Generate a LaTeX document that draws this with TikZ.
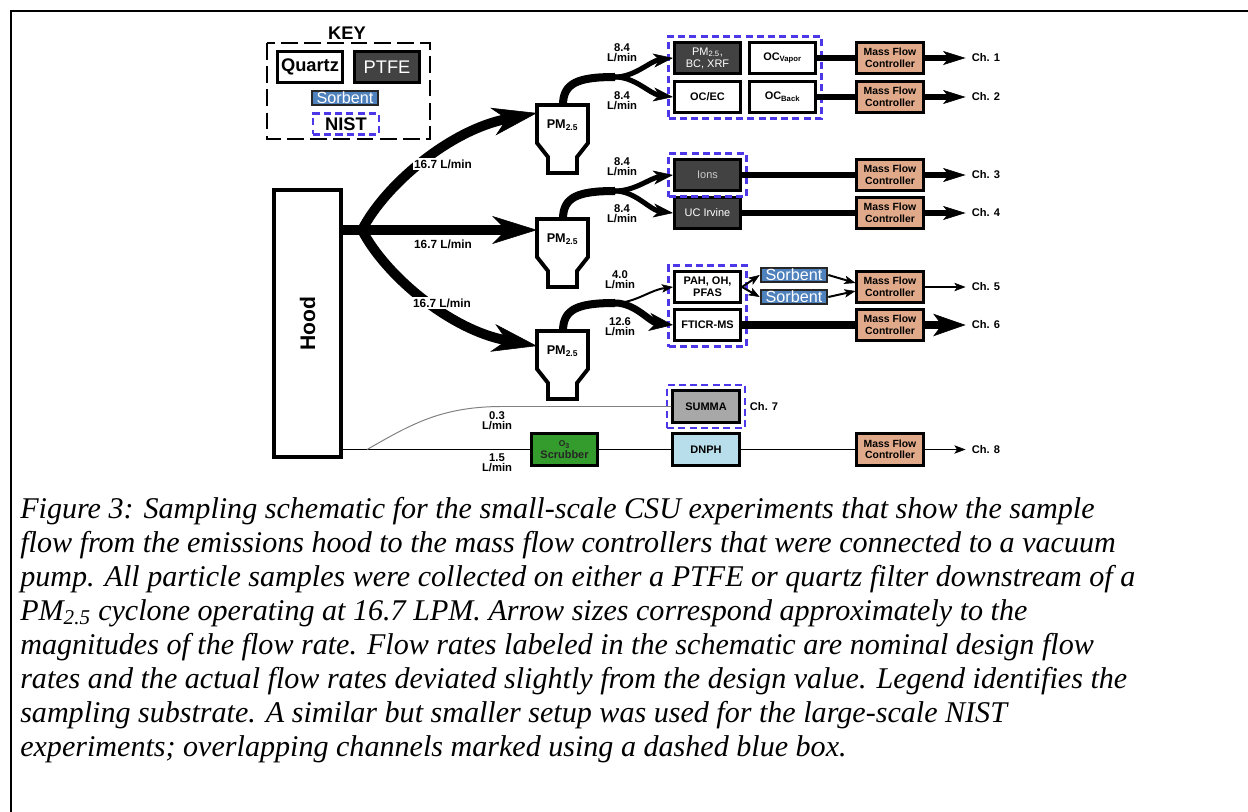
\documentclass[tikz,border=0pt]{standalone}
\usepackage{fontspec}
\setmainfont{Liberation Serif}
\setsansfont{Liberation Sans}
\usetikzlibrary{arrows.meta, positioning, fit}

\definecolor{filtergray}{RGB}{66,66,66}
\definecolor{mfctan}{RGB}{224,170,138}
\definecolor{sorbblue}{RGB}{79,129,189}
\definecolor{nistblue}{RGB}{76,56,232}
\definecolor{summagray}{RGB}{168,168,168}
\definecolor{dnphblue}{RGB}{183,222,234}
\definecolor{scrubgreen}{RGB}{52,156,44}

\tikzset{
  box/.style={draw, line width=1.9pt, fill=white, minimum width=16.6mm, minimum height=7.9mm, inner sep=0pt, align=center, font=\sffamily\bfseries\fontsize{7.8}{8.6}\selectfont},
  darkbox/.style={box, fill=filtergray, text=white, font=\sffamily\fontsize{7.8}{8.6}\selectfont},
  mfc/.style={box, fill=mfctan, font=\sffamily\bfseries\fontsize{7.4}{8.2}\selectfont},
  sorbent/.style={draw=black!85, line width=1.3pt, fill=sorbblue, text=white, minimum width=16.7mm, minimum height=3.7mm, inner sep=0pt, font=\sffamily\fontsize{11.5}{12}\selectfont},
  nist/.style={draw=nistblue, line width=1.6pt, dash pattern=on 5pt off 3pt, inner sep=1.1mm},
  rate/.style={align=center, inner sep=0pt, font=\sffamily\bfseries\fontsize{8}{7.2}\selectfont},
  bigrate/.style={fill=white, inner sep=1pt, font=\sffamily\bfseries\fontsize{8.4}{9}\selectfont},
  chan/.style={inner sep=1.5mm, font=\sffamily\bfseries\fontsize{7.9}{9}\selectfont},
  keytext/.style={font=\sffamily\bfseries\fontsize{13}{14}\selectfont},
  cyclone/.style={draw, line width=2.8pt, fill=white, line join=miter},
  hoodflow/.style={line width=7pt, -{Stealth[length=32pt, width=20pt, inset=10pt, line width=0.4pt]}},
  trunk/.style={line width=5.7pt},
  split/.style={line width=3.6pt, -{Stealth[length=14pt, width=10pt, inset=4pt, line width=0.4pt]}},
  bigsplit/.style={line width=5pt, -{Stealth[length=17pt, width=13pt, inset=5pt, line width=0.4pt]}},
  pipe/.style={line width=3.6pt},
  fatpipe/.style={line width=6pt},
  chout/.style={line width=3.6pt, -{Stealth[length=16pt, width=10pt, inset=4pt, line width=0.4pt]}},
  fatout/.style={line width=6pt, -{Stealth[length=23pt, width=16pt, inset=6pt, line width=0.4pt]}},
  hair/.style={line width=1.4pt},
  hairout/.style={hair, -{Stealth[length=8pt, width=6pt, inset=2pt, line width=0.4pt]}},
}

\begin{document}
\begin{tikzpicture}[x=0.25mm, y=-0.25mm]
  \useasboundingbox (0,0) rectangle (1248,812);
  \draw[line width=1.5pt] (11,812) -- (11,11) -- (1248,11);

  % key
  \node[keytext] (keytitle) at (347,33) {KEY};
  \draw[line width=2.1pt, dash pattern=on 12pt off 4.5pt] (267,43) rectangle (430,139);
  \node[box, line width=2.1pt, minimum width=16.3mm, minimum height=7.6mm, keytext] (quartz) at (310,67) {Quartz};
  \node[darkbox, minimum width=16.3mm, minimum height=7.6mm, font=\sffamily\fontsize{13}{14}\selectfont] (ptfe) at (387,67) {PTFE};
  \node[sorbent] (keysorb) at (345,98) {Sorbent};
  \node[nist, minimum width=16.5mm, minimum height=5.2mm, inner sep=0pt, keytext] (keynist) at (346,124) {NIST};

  % hood and the three cyclone inlets
  \node[draw, line width=2.8pt, minimum width=16.75mm, minimum height=66.75mm, inner sep=0pt] (hood) at (307.5,323.5) {};
  \node[rotate=90, font=\sffamily\bfseries\fontsize{15}{16}\selectfont] (hoodtxt) at (hood.center) {Hood};

  \coordinate (fork) at (362,230);
  \coordinate (in1) at (537,113);
  \coordinate (in2) at (537,230);
  \coordinate (in3) at (537,346);
  \draw[hoodflow] (hood.east |- fork) -- (in2);
  \draw[hoodflow] (fork) .. controls (385,185) and (450,130) .. (in1);
  \draw[hoodflow] (fork) .. controls (385,275) and (450,330) .. (in3);
  \node[bigrate] (r1) at (443,164) {16.7 L/min};
  \node[bigrate] (r2) at (443,244) {16.7 L/min};
  \node[bigrate] (r3) at (442,303) {16.7 L/min};

  % PM2.5 cyclones with their outlets
  \foreach \i/\t in {1/105, 2/219, 3/331}{
    \draw[cyclone] (537,\t) -- (537,\t+38) -- (548,\t+52) -- (548,\t+68) -- (577,\t+68)
      -- (577,\t+52) -- (588,\t+38) -- (588,\t) -- cycle;
    \node[font=\sffamily\bfseries\fontsize{9}{10}\selectfont] (pm\i) at (562.5,\t+20) {PM\textsubscript{2.5}};
    \draw[trunk] (563,\t) .. controls (563,\t-22) and (578,\t-28) .. (615,\t-28) coordinate (split\i);
  }

  % filters
  \node[darkbox] (pmbc) at (707.5,58) {PM\textsubscript{2.5},\\BC, XRF};
  \node[box] (ocv) at (782.5,58) {OC\textsubscript{Vapor}};
  \node[box] (ocec) at (707.5,97) {OC/EC};
  \node[box] (ocb) at (782.5,97) {OC\textsubscript{Back}};
  \node[nist, fit=(pmbc)(ocb)] (nist1) {};

  \node[darkbox, text=black!20] (ions) at (707.5,175) {Ions};
  \node[darkbox] (ucirv) at (707.5,213) {UC Irvine};
  \node[nist, fit=(ions)] (nist2) {};

  \node[box] (pah) at (707.5,287) {PAH, OH,\\PFAS};
  \node[box] (ftic) at (707.5,325) {FTICR-MS};
  \node[nist, fit=(pah)(ftic)] (nist3) {};
  \node[sorbent] (sorb1) at (794,275) {Sorbent};
  \node[sorbent] (sorb2) at (794,297) {Sorbent};

  \node[box, fill=summagray] (summa) at (706,406.5) {SUMMA};
  \node[nist, fit=(summa)] (nist7) {};
  \node[chan, inner sep=0.5mm, right=0.4mm of nist7] (ch7) {Ch. 7};
  \node[box, fill=dnphblue] (dnph) at (706,449.5) {DNPH};
  \node[box, fill=scrubgreen, text=black!85] (scrub) at (564.5,449.5) {\fontsize{6}{6}\selectfont O\textsubscript{3}\\Scrubber};

  % split flows into the filters
  \draw[split] (split1) .. controls (635,77) and (650,61) .. (pmbc.west);
  \draw[split] (split1) .. controls (635,77) and (650,94) .. (ocec.west);
  \draw[split] (split2) .. controls (635,191) and (650,178) .. (ions.west);
  \draw[split] (split2) .. controls (635,191) and (650,210) .. (ucirv.west);
  \draw[hairout] (split3) .. controls (635,303) and (650,290) .. (pah.west);
  \draw[bigsplit] (split3) .. controls (635,303) and (650,322) .. (ftic.west);
  \node[rate] (r1a) at (622,53) {8.4\\L/min};
  \node[rate] (r1b) at (622,101) {8.4\\L/min};
  \node[rate] (r2a) at (622,167) {8.4\\L/min};
  \node[rate] (r2b) at (622,214) {8.4\\L/min};
  \node[rate] (r3a) at (620,280) {4.0\\L/min};
  \node[rate] (r3b) at (620,327) {12.6\\L/min};

  % mass flow controllers and channels
  \foreach \i/\y in {1/58, 2/97, 3/175, 4/213, 5/287, 6/325, 8/449.5}
    \node[mfc] (mfc\i) at (890,\y) {Mass Flow\\Controller};
  \foreach \i in {1,2,3,4,5,6,8}
    \node[chan, right=10.25mm of mfc\i] (ch\i) {Ch. \i};

  \draw[pipe] (ocv) -- (mfc1);
  \draw[pipe] (ocb) -- (mfc2);
  \draw[pipe] (ions) -- (mfc3);
  \draw[pipe] (ucirv) -- (mfc4);
  \draw[fatpipe] (ftic) -- (mfc6);
  \draw[hairout] (pah.east) -- (sorb1.west);
  \draw[hairout] (pah.east) -- (sorb2.west);
  \draw[hairout] (sorb1.east) -- ([yshift=1mm]mfc5.west);
  \draw[hairout] (sorb2.east) -- ([yshift=-1mm]mfc5.west);
  \foreach \i in {1,2,3,4}
    \draw[chout] (mfc\i) -- (ch\i);
  \draw[hairout] (mfc5) -- (ch5);
  \draw[fatout] (mfc6) -- (ch6);
  \draw[hairout] (mfc8) -- (ch8);

  % gas-phase line
  \coordinate (tap) at (367,449.5);
  \draw[hair] (hood.east |- scrub) -- (scrub);
  \draw[hair] (scrub) -- (dnph);
  \draw[hair] (dnph) -- (mfc8);
  \draw[gray, line width=0.7pt] (tap) .. controls (410,425) and (440,407) .. (500,406.5) -- (summa.west);
  \node[rate] (r7) at (497,421) {0.3\\L/min};
  \node[rate] (r8) at (497,463) {1.5\\L/min};

  % caption
  \node[anchor=north west, inner sep=0pt, align=left, font=\fontsize{21.4}{24.2}\selectfont\itshape] (caption) at (20,497)
    {Figure 3: Sampling schematic for the small-scale CSU experiments that show the sample\\
     flow from the emissions hood to the mass flow controllers that were connected to a vacuum\\
     pump. All particle samples were collected on either a PTFE or quartz filter downstream of a\\
     PM\textsubscript{2.5} cyclone operating at 16.7 LPM. Arrow sizes correspond approximately to the\\
     magnitudes of the flow rate. Flow rates labeled in the schematic are nominal design flow\\
     rates and the actual flow rates deviated slightly from the design value. Legend identifies the\\
     sampling substrate. A similar but smaller setup was used for the large-scale NIST\\
     experiments; overlapping channels marked using a dashed blue box.};
\end{tikzpicture}
\end{document}
